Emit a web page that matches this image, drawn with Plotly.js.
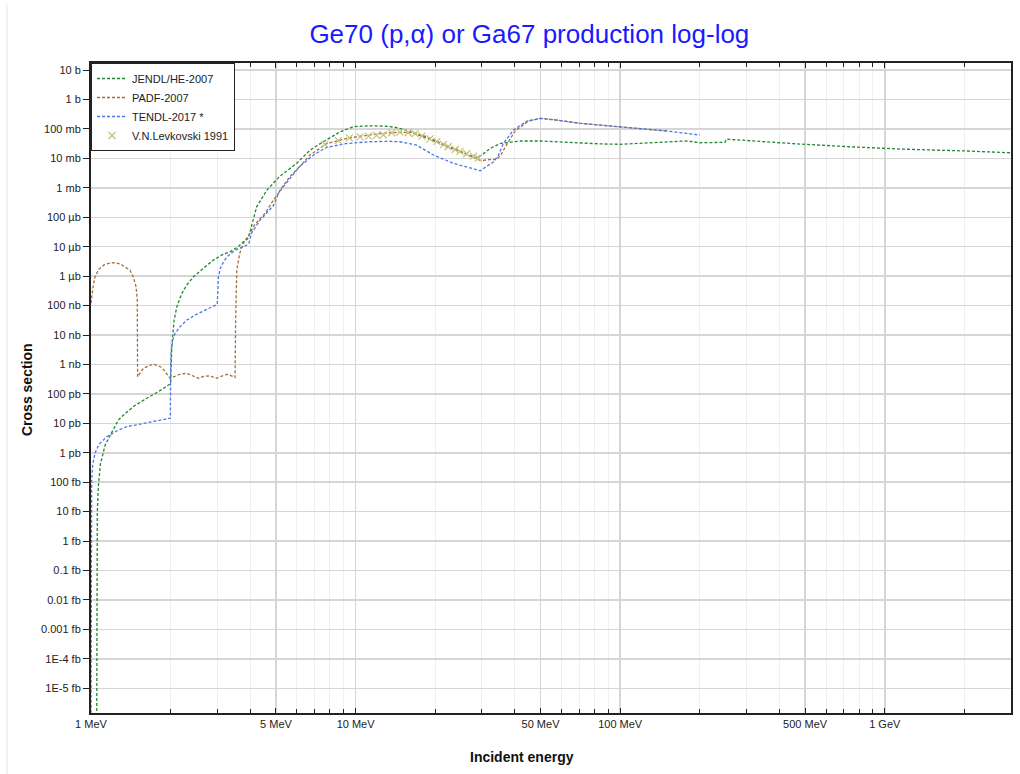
<!DOCTYPE html>
<html>
<head>
<meta charset="utf-8">
<script src="https://cdn.plot.ly/plotly-3.0.1.min.js"></script>
<style>html,body{margin:0;padding:0;background:#fff;}#chart{width:1020px;height:774px;}</style>
</head>
<body>
<div id="chart"></div>
<script>
// Energies in MeV, cross sections in barns
const jendlE = [1.049, 1.0509, 1.0563, 1.066, 1.085, 1.13, 1.2, 1.268, 1.35, 1.45, 1.624, 1.8, 1.99, 2.0, 2.02, 2.06, 2.11, 2.2, 2.3, 2.44, 2.65, 2.9, 3.15, 3.35, 3.6, 3.77, 3.93, 4.05, 4.23, 4.62, 5.18, 5.99, 6.73, 7.55, 8.74, 9.81, 11.3, 12.74, 14.0, 15.16, 16.5, 18.05, 20.87, 24.8, 27.0, 28.5, 30.0, 32.3, 35.2, 41.9, 50, 59.3, 70.6, 85, 100, 120, 141.7, 178.7, 200, 249, 252, 319, 479, 741, 1145, 2043, 3000];
const jendlXS = [1e-24, 1e-18, 9e-15, 7e-14, 4e-13, 1.8e-12, 5e-12, 1.29e-11, 2.2e-11, 3.8e-11, 7.1e-11, 1.2e-10, 2.16e-10, 2.5e-10, 4e-9, 3e-8, 9.1e-8, 2.5e-7, 5e-7, 9.5e-7, 1.8e-6, 3.5e-6, 5.5e-6, 6.7e-6, 1.0e-5, 1.47e-5, 1.92e-5, 5.4e-5, 2.3e-4, 8.4e-4, 2.5e-3, 6.8e-3, 0.0192, 0.0367, 0.080, 0.119, 0.128, 0.125, 0.115, 0.097, 0.075, 0.054, 0.032, 0.0168, 0.0125, 0.0104, 0.013, 0.0219, 0.032, 0.039, 0.0389, 0.0358, 0.0324, 0.031, 0.030, 0.032, 0.034, 0.039, 0.034, 0.035, 0.045, 0.039, 0.0306, 0.0248, 0.0207, 0.0178, 0.0155];

const padfE = [1.0, 1.006, 1.02, 1.035, 1.07, 1.12, 1.18, 1.232, 1.3, 1.404, 1.445, 1.48, 1.496, 1.5, 1.58, 1.72, 1.85, 1.99, 2.078, 2.18, 2.30, 2.42, 2.545, 2.66, 2.777, 2.88, 2.987, 3.12, 3.26, 3.38, 3.503, 3.52, 3.556, 3.65, 3.765, 3.99, 4.108, 4.355, 4.55, 4.89, 5.33, 5.99, 6.73, 7.78, 9.26, 11.2, 12.74, 14.7, 16.07, 17.2, 18.6, 20.3, 21.5, 24.8, 27.9, 29.6, 30.4, 32.7, 33.7, 35.2, 37.3, 40.1, 45, 50, 57.6, 70.6, 84, 112, 150];
const padfXS = [1.2e-7, 2.2e-7, 5e-7, 9.3e-7, 1.7e-6, 2.4e-6, 2.8e-6, 2.85e-6, 2.5e-6, 1.6e-6, 9.3e-7, 4.4e-7, 1.5e-7, 3.8e-10, 7.5e-10, 1.03e-9, 8e-10, 3.4e-10, 4.07e-10, 4.7e-10, 5e-10, 4.2e-10, 3.4e-10, 3.9e-10, 4.07e-10, 3.8e-10, 3.4e-10, 4.0e-10, 4.6e-10, 4.2e-10, 3.6e-10, 3e-8, 1.6e-6, 6e-6, 1.3e-5, 2.84e-5, 4.8e-5, 9.2e-5, 1.36e-4, 3.8e-4, 1.09e-3, 4e-3, 0.013, 0.032, 0.048, 0.062, 0.0708, 0.077, 0.0766, 0.068, 0.054, 0.038, 0.030, 0.0168, 0.0108, 0.0085, 0.0086, 0.0093, 0.0090, 0.012, 0.030, 0.085, 0.185, 0.229, 0.2, 0.155, 0.135, 0.105, 0.085];

const tendlE = [1.0, 1.001, 1.003, 1.006, 1.015, 1.035, 1.07, 1.147, 1.25, 1.364, 1.5, 1.624, 1.8, 1.977, 1.995, 2.0, 2.01, 2.04, 2.078, 2.18, 2.30, 2.5, 2.75, 2.987, 3.0, 3.03, 3.1, 3.26, 3.5, 3.879, 3.95, 4.05, 4.355, 4.48, 4.89, 5.18, 5.65, 6.17, 6.93, 7.78, 9.26, 11.2, 13.0, 14.7, 17.0, 19.7, 23.4, 26.5, 29.6, 31.8, 33.2, 34.7, 36.2, 39.5, 44.4, 50, 57.6, 70.6, 84, 112, 150, 200];
const tendlXS = [1e-21, 1e-15, 4e-14, 1.2e-13, 4e-13, 9.5e-13, 1.9e-12, 3.5e-12, 5.5e-12, 7.7e-12, 9e-12, 1.05e-11, 1.25e-11, 1.48e-11, 1.5e-11, 1e-9, 3e-9, 7e-9, 1.14e-8, 2e-8, 3.2e-8, 5e-8, 7.5e-8, 1.05e-7, 1.1e-7, 9.5e-7, 2.2e-6, 4.5e-6, 7.5e-6, 1.14e-5, 1.3e-5, 3e-5, 8e-5, 1.04e-4, 2.5e-4, 8.4e-4, 2.4e-3, 5.5e-3, 0.013, 0.0237, 0.032, 0.0367, 0.038, 0.0367, 0.0283, 0.013, 6.8e-3, 5e-3, 3.8e-3, 5.9e-3, 7.5e-3, 0.013, 0.032, 0.0916, 0.185, 0.229, 0.2, 0.155, 0.135, 0.105, 0.085, 0.062];

const levkE = [7.65, 8.61, 9.47, 10.4, 11.2, 12.0, 12.74, 13.7, 14.7, 15.8, 16.8, 17.8, 19.1, 20.3, 21.5, 22.4, 23.8, 24.8, 26.3, 27.9, 29.1];
const levkXS = [0.030, 0.040, 0.050, 0.054, 0.057, 0.0605, 0.0633, 0.074, 0.078, 0.074, 0.069, 0.057, 0.046, 0.038, 0.030, 0.0248, 0.020, 0.0173, 0.0144, 0.012, 0.0102];

const xTickVals = [1, 5, 10, 50, 100, 500, 1000];
const xTickText = ['1 MeV', '5 MeV', '10 MeV', '50 MeV', '100 MeV', '500 MeV', '1 GeV'];
const xMinorVals = [2, 3, 4, 6, 7, 8, 9, 20, 30, 40, 60, 70, 80, 90, 200, 300, 400, 600, 700, 800, 900, 2000, 3000];
const yTickVals = [1e1, 1e0, 1e-1, 1e-2, 1e-3, 1e-4, 1e-5, 1e-6, 1e-7, 1e-8, 1e-9, 1e-10, 1e-11, 1e-12, 1e-13, 1e-14, 1e-15, 1e-16, 1e-17, 1e-18, 1e-19, 1e-20];
const yTickText = ['10 b', '1 b', '100 mb', '10 mb', '1 mb', '100 µb', '10 µb', '1 µb', '100 nb', '10 nb', '1 nb', '100 pb', '10 pb', '1 pb', '100 fb', '10 fb', '1 fb', '0.1 fb', '0.01 fb', '0.001 fb', '1E-4 fb', '1E-5 fb'];

const FONT = 'Arial, "Liberation Sans", sans-serif';
const dash = '3px,2px';

const traces = [
  {x: jendlE, y: jendlXS, name: 'JENDL/HE-2007', type: 'scatter', mode: 'lines',
   line: {color: '#23862f', width: 1.3, dash: dash}},
  {x: padfE, y: padfXS, name: 'PADF-2007', type: 'scatter', mode: 'lines',
   line: {color: '#a66d3a', width: 1.3, dash: dash}},
  {x: tendlE, y: tendlXS, name: 'TENDL-2017 *', type: 'scatter', mode: 'lines',
   line: {color: '#4a78e6', width: 1.3, dash: dash}},
  {x: levkE, y: levkXS, name: 'V.N.Levkovski 1991', type: 'scatter', mode: 'markers',
   marker: {symbol: 'x-thin-open', size: 7, color: '#c4c07a', line: {color: '#c4c07a', width: 1.2}}}
];

const yRange = [-20.84, 1.24];
const layout = {
  width: 1020, height: 774,
  margin: {l: 91, r: 9, t: 63, b: 61},
  paper_bgcolor: '#ffffff', plot_bgcolor: '#ffffff',
  font: {family: FONT, size: 11, color: '#222'},
  title: {text: 'Ge70 (p,α) or Ga67 production log-log', font: {family: FONT, size: 26, color: '#1a1aff'},
          xref: 'container', x: 0.519, xanchor: 'center', yref: 'container', y: 0.956, yanchor: 'middle'},
  showlegend: true,
  legend: {x: 0, y: 1, xanchor: 'left', yanchor: 'top', bgcolor: '#ffffff', bordercolor: '#222', borderwidth: 1,
           font: {family: FONT, size: 11, color: '#222'}, tracegroupgap: 0, itemwidth: 30},
  xaxis: {type: 'log', range: [0, Math.log10(3000)], tickmode: 'array', tickvals: xTickVals, ticktext: xTickText,
          ticks: 'inside', ticklen: 5, tickwidth: 1, tickcolor: '#222', showline: true, linecolor: '#222', linewidth: 2,
          mirror: 'allticks', showgrid: true, gridcolor: '#d6d6d6', gridwidth: 1.5, zeroline: false,
          tickfont: {family: FONT, size: 11, color: '#222'},
          minor: {tickmode: 'array', tickvals: xMinorVals, ticks: 'inside', ticklen: 4, tickcolor: '#222', tickwidth: 1,
                  showgrid: true, gridcolor: '#efefef', gridwidth: 1}},
  yaxis: {type: 'log', range: yRange, tickmode: 'array', tickvals: yTickVals, ticktext: yTickText,
          ticks: 'outside', ticklen: 6, tickwidth: 1, tickcolor: '#222', showline: true, linecolor: '#222', linewidth: 2,
          mirror: true, showgrid: true, gridcolor: '#d6d6d6', gridwidth: 1.5, zeroline: false,
          tickfont: {family: FONT, size: 11, color: '#222'}},
  yaxis2: {type: 'log', range: yRange, overlaying: 'y', side: 'left', tickmode: 'array', tickvals: yTickVals,
           ticks: 'inside', ticklen: 5, tickwidth: 1, tickcolor: '#222', mirror: 'ticks', showline: false,
           showgrid: false, showticklabels: false, zeroline: false},
  annotations: [
    {text: '<b>Incident energy</b>', xref: 'paper', yref: 'paper', x: (522 - 91) / 920, y: (713 - 757) / 650,
     xanchor: 'center', yanchor: 'middle', showarrow: false, font: {family: FONT, size: 14, color: '#111'}},
    {text: '<b>Cross section</b>', xref: 'paper', yref: 'paper', x: (27 - 91) / 920, y: (713 - 390) / 650,
     xanchor: 'center', yanchor: 'middle', textangle: -90, showarrow: false, font: {family: FONT, size: 14, color: '#111'}}
  ],
  shapes: [
    {type: 'line', xref: 'paper', yref: 'paper', x0: (7 - 91) / 920, x1: (7 - 91) / 920, y0: (713 - 774) / 650, y1: (713 - 4) / 650,
     line: {color: '#e6e6e6', width: 1}}
  ]
};

Plotly.newPlot('chart', traces, layout, {displayModeBar: false, staticPlot: true});
</script>
</body>
</html>
